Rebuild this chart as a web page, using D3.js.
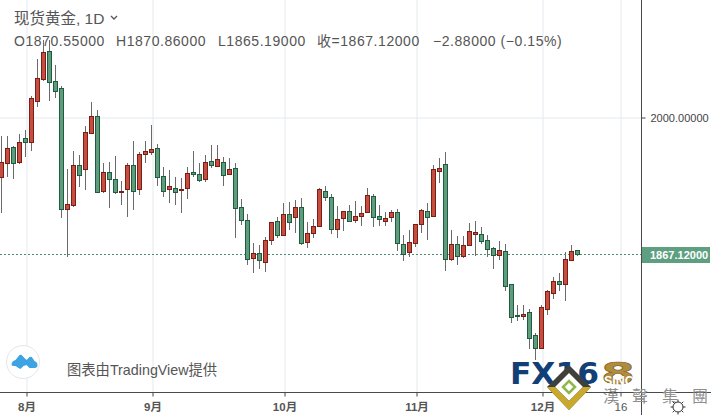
<!DOCTYPE html>
<html><head><meta charset="utf-8">
<script src="https://cdnjs.cloudflare.com/ajax/libs/d3/7.8.5/d3.min.js"></script>
<style>
html,body{margin:0;padding:0;background:#fff;overflow:hidden}
svg{display:block}
text{font-family:"Liberation Sans","Noto Sans CJK SC",sans-serif}
</style></head><body><div id="c"></div>
<script>
const open=[1941.8,1955.4,1970.9,1956.4,1979.6,1975.8,2015.5,2036.9,2064.0,2034.9,2028.1,1910.8,1914.7,1953.5,1949.6,1984.5,2001.0,1928.2,1946.7,1939.9,1927.3,1930.2,1953.5,1930.2,1964.1,1966.1,1970.0,1942.8,1930.2,1931.1,1929.2,1931.1,1946.7,1944.7,1939.9,1957.3,1952.5,1956.4,1944.7,1950.5,1912.7,1900.1,1863.2,1868.1,1859.4,1880.7,1899.1,1885.6,1905.9,1903.0,1912.7,1878.8,1887.5,1894.3,1928.2,1922.4,1891.4,1902.0,1908.8,1900.1,1904.0,1907.9,1923.4,1904.0,1899.1,1903.0,1907.9,1876.8,1869.1,1877.8,1896.2,1908.8,1904.0,1947.6,1954.4,1862.3,1876.8,1865.2,1875.9,1886.5,1886.5,1880.7,1872.9,1866.2,1870.0,1838.0,1808.0,1807.0,1810.9,1788.6,1776.0,1813.8,1829.3,1841.0,1838.0,1861.3,1870.55];
const high=[1981.6,1981.6,1971.9,1983.5,1987.4,2020.4,2056.3,2074.7,2074.7,2050.4,2030.1,1949.6,1967.0,1963.1,1991.3,2014.6,2006.8,1955.4,1956.4,1962.2,1937.9,1955.4,1976.7,1966.1,1976.7,1992.2,1973.8,1951.5,1948.6,1941.8,1940.8,1951.5,1967.0,1955.4,1963.1,1972.9,1972.9,1961.2,1960.2,1955.4,1920.5,1905.9,1877.8,1875.9,1883.6,1898.2,1903.0,1916.6,1917.6,1919.5,1921.4,1898.2,1901.1,1931.1,1933.1,1925.3,1913.7,1908.8,1914.7,1918.5,1913.7,1931.1,1925.3,1914.7,1907.9,1909.8,1910.8,1885.6,1890.4,1896.2,1910.8,1916.6,1953.5,1960.2,1966.1,1890.4,1884.6,1884.6,1897.2,1899.1,1893.3,1885.6,1873.9,1879.7,1876.8,1838.0,1817.7,1817.7,1813.8,1790.5,1817.7,1832.2,1844.8,1848.7,1869.1,1875.9,1870.86];
const low=[1906.9,1941.8,1939.9,1954.4,1961.2,1967.0,2009.7,2034.9,2015.5,2018.4,1902.0,1864.2,1912.7,1932.1,1929.2,1983.5,1926.3,1926.3,1911.7,1925.3,1914.7,1903.0,1909.8,1924.4,1955.4,1963.1,1933.1,1922.4,1916.6,1914.7,1906.9,1920.5,1941.8,1937.0,1937.0,1950.5,1951.5,1933.1,1943.8,1882.6,1895.3,1856.5,1848.7,1852.6,1849.7,1875.9,1882.6,1884.6,1890.4,1887.5,1875.9,1872.9,1882.6,1893.3,1918.5,1886.5,1882.6,1889.4,1898.2,1897.2,1894.3,1906.9,1893.3,1894.3,1894.3,1898.2,1870.0,1860.3,1864.2,1873.9,1887.5,1880.7,1903.0,1936.0,1850.6,1860.3,1856.5,1863.2,1875.9,1865.2,1876.8,1864.2,1852.6,1861.3,1831.2,1800.2,1802.1,1803.1,1775.0,1764.3,1776.0,1808.0,1823.5,1831.2,1821.5,1860.3,1865.19];
const close=[1956.4,1970.0,1955.4,1975.8,1975.8,2018.4,2037.8,2063.1,2034.0,2025.2,1910.8,1915.6,1953.5,1943.8,1985.5,2001.0,1927.3,1946.7,1939.9,1927.3,1927.8,1953.5,1928.2,1964.1,1967.0,1969.0,1941.8,1928.2,1933.1,1927.3,1930.2,1945.7,1944.7,1938.9,1956.4,1953.5,1959.3,1943.8,1949.6,1911.7,1900.1,1862.3,1868.1,1861.3,1880.7,1898.2,1885.6,1905.9,1898.2,1912.7,1877.8,1887.5,1894.3,1930.2,1922.4,1891.4,1901.1,1908.8,1899.1,1904.0,1906.9,1924.4,1903.0,1901.1,1902.0,1907.9,1877.8,1867.1,1878.8,1896.2,1909.8,1903.0,1949.6,1950.5,1862.3,1876.8,1865.2,1875.9,1889.4,1888.5,1879.7,1872.0,1866.2,1871.0,1836.1,1806.0,1807.0,1808.9,1785.6,1776.0,1815.7,1831.2,1841.0,1838.0,1862.3,1870.0,1867.12];
const monthTickIndex=[4,25,47,69,90,103];
const monthTickLabels=["8月","9月","10月","11月","12月","16"];
const priceTicks=[2000];
const lastPrice=1867.12;
const titleText="现货黄金, 1D";
const ohlcText=["O1870.55000","H1870.86000","L1865.19000","收=1867.12000","−2.88000 (−0.15%)"];
const ohlcX=[14,116,218,317,433];

const W=711,H=415,axisX=641,axisY=392;
const svg=d3.select("#c").append("svg").attr("width",W).attr("height",H);
const x=d3.scaleLinear().domain([0,96]).range([1,577]);
const y=d3.scaleLinear().domain([1733.3,2113.5]).range([392,0]);
const gx=x.copy().range([2,578]);

const xa=svg.append("g").attr("transform",`translate(0.5,${axisY+.5})`)
  .call(d3.axisBottom(gx).tickValues(monthTickIndex).tickFormat((d,i)=>monthTickLabels[i]).tickSize(4).tickPadding(6));
xa.select(".domain").remove();
xa.selectAll(".tick line").attr("stroke","#444");
xa.selectAll(".tick text").attr("fill","#555").attr("font-size",11.5).attr("font-weight",(d,i)=>i<5?"bold":"normal").style("font-family",'"Liberation Sans","Noto Sans CJK SC",sans-serif');
const grid=svg.insert("g",":first-child").attr("transform",`translate(0.5,${axisY})`)
  .call(d3.axisBottom(gx).tickValues(monthTickIndex).tickFormat("").tickSize(-axisY));
grid.select(".domain").remove();
grid.selectAll("line").attr("stroke","#e4e9ed");
const hgrid=svg.insert("g",":first-child").attr("transform",`translate(${axisX},0.5)`)
  .call(d3.axisLeft(y).tickValues(priceTicks).tickFormat("").tickSize(axisX));
hgrid.select(".domain").remove();
hgrid.selectAll("line").attr("stroke","#e4e9ed");

svg.append("line").attr("x1",0).attr("x2",axisX).attr("y1",Math.round(y(lastPrice))+.5).attr("y2",Math.round(y(lastPrice))+.5)
  .attr("stroke","#4f8a74").attr("stroke-dasharray","2 2");

const idx=d3.range(open.length);
const c=svg.append("g").selectAll("g").data(idx).join("g");
c.append("line").attr("x1",i=>Math.round(x(i))+.5).attr("x2",i=>Math.round(x(i))+.5)
  .attr("y1",i=>Math.round(y(high[i]))).attr("y2",i=>Math.round(y(low[i])))
  .attr("stroke","#6a6a6a");
c.append("rect").attr("x",i=>Math.round(x(i))-1.5).attr("width",4)
  .attr("y",i=>Math.round(y(Math.max(open[i],close[i])))+.5)
  .attr("height",i=>Math.max(1,Math.round(y(Math.min(open[i],close[i])))-Math.round(y(Math.max(open[i],close[i])))))
  .attr("fill",i=>close[i]>=open[i]?"#c64e3e":"#5f9c7c")
  .attr("stroke",i=>close[i]>=open[i]?"#7b1d14":"#1f5b40");

svg.append("line").attr("x1",0).attr("x2",W).attr("y1",axisY+.5).attr("y2",axisY+.5).attr("stroke","#4a4a4a");
svg.append("line").attr("x1",axisX+.5).attr("x2",axisX+.5).attr("y1",0).attr("y2",H).attr("stroke","#4a4a4a");

const ya=svg.append("g").attr("transform",`translate(${axisX+.5},0.5)`)
  .call(d3.axisRight(y).tickValues(priceTicks).tickFormat(d3.format(".5f")).tickSize(4).tickPadding(5));
ya.select(".domain").remove();
ya.selectAll("line").attr("stroke","#444");
ya.selectAll("text").attr("fill","#444").attr("font-size",11).style("font-family",'"Liberation Sans",sans-serif');

const ly=Math.round(y(lastPrice));
svg.append("rect").attr("x",axisX+1).attr("y",ly-7).attr("width",68).attr("height",16).attr("fill","#5e9f82");
svg.append("text").attr("x",650).attr("y",ly+4.5).attr("fill","#fff").attr("font-size",11).attr("font-weight","bold").text(d3.format(".5f")(lastPrice));

svg.append("text").attr("x",14).attr("y",24).attr("font-size",15.5).attr("fill","#555").text(titleText);
svg.append("path").attr("d","M111 16l3 3 3-3").attr("fill","none").attr("stroke","#555").attr("stroke-width",1.3);
svg.selectAll("text.h").data(ohlcText).join("text").attr("class","h").attr("x",(d,i)=>ohlcX[i]).attr("y",45.5)
  .attr("font-size",14).attr("letter-spacing",".55").attr("fill","#555").text(d=>d);

svg.append("circle").attr("cx",23).attr("cy",362).attr("r",16.5).attr("fill","#fff").attr("stroke","#e4e6ea");
svg.append("path").attr("d","M13 366q0-4 4-5l4-5q2-1 3 1l4 4 3-3q2-1 3 1l2 3q3 1 3 4t-3 3H31l-3-3-3 1-3 3-2-1-3-2q-4 0-4-1z").attr("transform","translate(-1.5,-1)").attr("fill","#3ea3e2");
svg.append("text").attr("x",67).attr("y",375).attr("font-size",14.3).attr("fill","#555").text("图表由TradingView提供");

const wm=svg.append("g").style("font-family",'"DejaVu Sans",sans-serif');
wm.append("text").attr("x",510).attr("y",384).attr("font-size",31).attr("font-weight","bold").attr("textLength",89).attr("lengthAdjust","spacingAndGlyphs").attr("fill","#123f76").style("font-family",'"DejaVu Sans",sans-serif').text("FX16");
wm.append("text").attr("x",601).attr("y",384).attr("font-size",31).attr("font-weight","bold").attr("textLength",34).attr("lengthAdjust","spacingAndGlyphs").attr("fill","#b08c3e").attr("stroke","#7d5e1c").attr("stroke-width",.6).style("font-family",'"DejaVu Sans",sans-serif').text("8");
wm.append("text").attr("x",604).attr("y",385).attr("font-size",12.5).attr("font-weight","bold").attr("fill","#fff").text("SINC");
wm.append("path").attr("d","M569 365L591 387L569 410L547 387Z").attr("fill","#3f3f3c");
wm.append("path").attr("d","M569 373L583 387L569 401L555 387Z").attr("fill","#fff");
wm.append("path").attr("d","M547 387L555 387L569 401L583 387L591 387L569 410Z").attr("fill","#c9a92b");
wm.append("path").attr("d","M569 381L575 387L569 393L563 387Z").attr("fill","none").attr("stroke","#8fb84a").attr("stroke-width",2.5);
wm.append("text").attr("x","603 632 662 692").attr("y",402).attr("font-size",16).attr("fill","#8e8e8e").style("font-family",'"Noto Sans CJK TC",sans-serif').text("漢聲集團");

const g=svg.append("g").attr("transform","translate(678,407)");
g.append("circle").attr("r",5).attr("fill","#fff").attr("stroke","#333");
d3.range(8).forEach(k=>{const a=k*Math.PI/4;g.append("line").attr("x1",5*Math.cos(a)).attr("y1",5*Math.sin(a)).attr("x2",7.5*Math.cos(a)).attr("y2",7.5*Math.sin(a)).attr("stroke","#333");});
</script></body></html>
